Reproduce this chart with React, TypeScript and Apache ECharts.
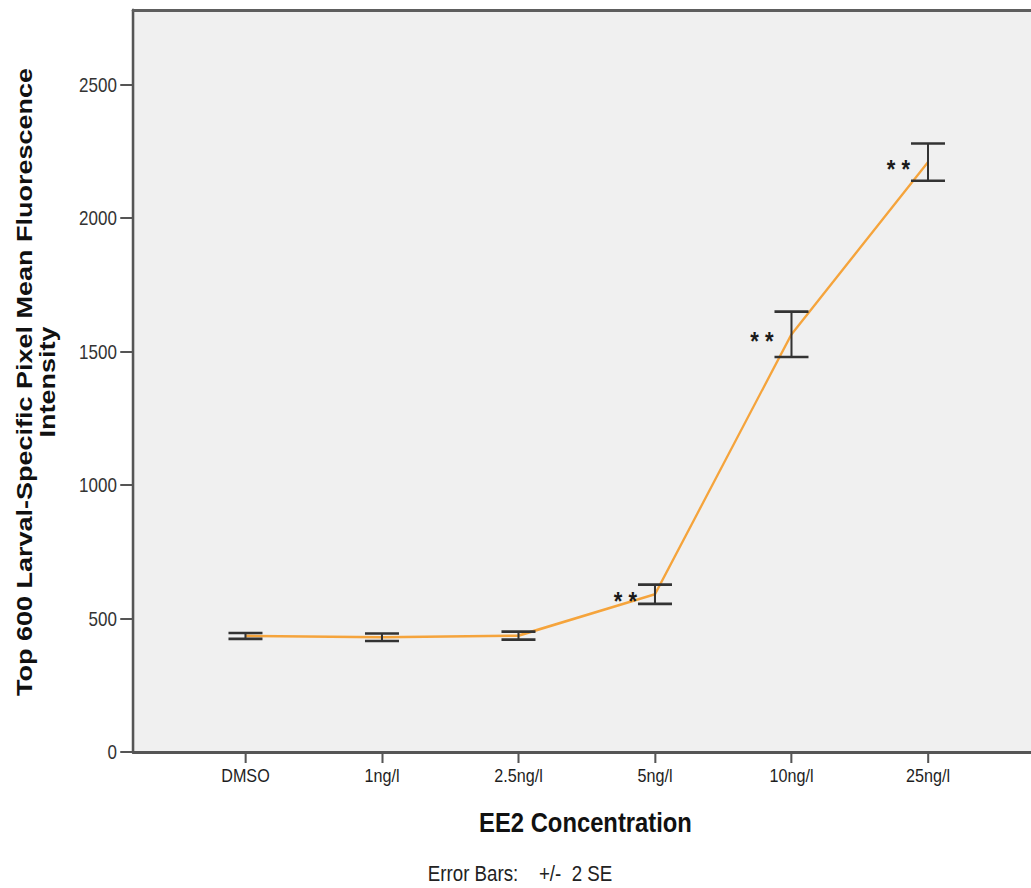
import React, { useEffect, useRef } from "react";
import * as echarts from "echarts";

// Treatment groups along the x axis
const categories = ["DMSO", "1ng/l", "2.5ng/l", "5ng/l", "10ng/l", "25ng/l"];
// Mean fluorescence intensity per group
const meanIntensity = [435, 430, 436, 591, 1565, 2210];
// Error bar half-length (2 standard errors)
const twoSE = [11, 14, 15, 36, 85, 70];
// Significance markers shown next to each group
const significance = ["", "", "", "**", "**", "**"];
// Y axis tick values and range
const yTicks = [0, 500, 1000, 1500, 2000, 2500];
const yMax = 2780;

// The figure is drawn on a wider canvas and squeezed horizontally
const SQUEEZE = 0.85;
const VIEW_W = 1031;
const VIEW_H = 888;
const CHART_W = VIEW_W / SQUEEZE;

const FONT = "'Liberation Sans', Arial, Helvetica, sans-serif";
const AXIS_COLOR = "#555555";
const BAR_COLOR = "#333333";
const LINE_COLOR = "#f5a43c";

export default function App() {
  const ref = useRef<HTMLDivElement>(null);

  useEffect(() => {
    if (!ref.current) return;
    const chart = echarts.init(ref.current, undefined, { renderer: "svg" });

    const positions = categories.map((_, i) => i);
    const lineData = positions.map((x, i) => [x, meanIntensity[i]]);
    const barData = positions.map((x, i) => [x, meanIntensity[i], twoSE[i]]);
    const starData = positions.map((x, i) => [x, meanIntensity[i], i]);

    const xMin = -0.824;
    const xMax = 5.755;

    const option: any = {
      animation: false,
      grid: {
        left: 133 / SQUEEZE,
        right: 0,
        top: 10,
        bottom: 136,
        show: true,
        backgroundColor: "#f0f0f0",
        borderWidth: 0,
      },
      xAxis: [
        {
          type: "value",
          min: xMin,
          max: xMax,
          position: "bottom",
          axisLine: { show: true, onZero: false, lineStyle: { color: AXIS_COLOR, width: 3 } },
          axisTick: {
            show: true,
            customValues: positions,
            length: 11,
            lineStyle: { color: AXIS_COLOR, width: 2.4 },
          },
          axisLabel: {
            customValues: positions,
            formatter: (v: number) => categories[Math.round(v)] ?? "",
            margin: 14,
            color: "#1e1e1e",
            fontSize: 19,
            fontFamily: FONT,
          },
          splitLine: { show: false },
        },
        {
          type: "value",
          min: xMin,
          max: xMax,
          position: "top",
          axisLine: { show: true, onZero: false, lineStyle: { color: "#5e5e5e", width: 3 } },
          axisTick: { show: false },
          axisLabel: { show: false },
          splitLine: { show: false },
        },
      ],
      yAxis: {
        type: "value",
        min: 0,
        max: yMax,
        axisLine: { show: true, onZero: false, lineStyle: { color: AXIS_COLOR, width: 3 } },
        axisTick: {
          show: true,
          customValues: yTicks,
          length: 15,
          lineStyle: { color: AXIS_COLOR, width: 2 },
        },
        axisLabel: {
          customValues: yTicks,
          formatter: (v: number) => String(v),
          margin: 19,
          fontSize: 20,
          color: "#333333",
          fontFamily: FONT,
        },
        splitLine: { show: false },
      },
      series: [
        {
          type: "line",
          data: lineData,
          symbol: "none",
          lineStyle: { color: LINE_COLOR, width: 2.6 },
          z: 2,
        },
        {
          type: "custom",
          data: barData,
          z: 3,
          renderItem: (_params: any, api: any) => {
            const x = api.value(0);
            const m = api.value(1);
            const e = api.value(2);
            const c = api.coord([x, m]);
            const hi = api.coord([x, m + e]);
            const lo = api.coord([x, m - e]);
            const half = 20;
            return {
              type: "group",
              children: [
                {
                  type: "line",
                  shape: { x1: c[0], y1: hi[1], x2: c[0], y2: lo[1] },
                  style: { stroke: BAR_COLOR, lineWidth: 2.4 },
                },
                {
                  type: "line",
                  shape: { x1: c[0] - half, y1: hi[1], x2: c[0] + half, y2: hi[1] },
                  style: { stroke: BAR_COLOR, lineWidth: 2.6 },
                },
                {
                  type: "line",
                  shape: { x1: c[0] - half, y1: lo[1], x2: c[0] + half, y2: lo[1] },
                  style: { stroke: BAR_COLOR, lineWidth: 2.6 },
                },
              ],
            };
          },
        },
        {
          type: "custom",
          data: starData,
          z: 4,
          renderItem: (_params: any, api: any) => {
            const idx = api.value(2);
            const mark = significance[idx];
            if (!mark) return null;
            const c = api.coord([api.value(0), api.value(1)]);
            return {
              type: "text",
              x: c[0] - 21,
              y: c[1] + 7,
              style: {
                text: mark.split("").join(" "),
                font: `bold 26px ${FONT}`,
                fill: "#1a1a1a",
                align: "right",
                textAlign: "right",
                verticalAlign: "middle",
                textVerticalAlign: "middle",
              },
            };
          },
        },
      ],
      graphic: [
        {
          type: "text",
          x: 42,
          y: 382,
          rotation: Math.PI / 2,
          style: {
            text: "Top 600 Larval-Specific Pixel Mean Fluorescence\nIntensity",
            font: `bold 27px ${FONT}`,
            lineHeight: 27,
            fill: "#111111",
            align: "center",
            textAlign: "center",
            verticalAlign: "middle",
            textVerticalAlign: "middle",
          },
        },
        {
          type: "text",
          x: 585.5 / SQUEEZE,
          y: 822,
          style: {
            text: "EE2 Concentration",
            font: `bold 28px ${FONT}`,
            fill: "#111111",
            align: "center",
            textAlign: "center",
            verticalAlign: "middle",
            textVerticalAlign: "middle",
          },
        },
        {
          type: "text",
          x: 520 / SQUEEZE,
          y: 873,
          style: {
            text: "Error Bars:    +/-  2 SE",
            font: `22px ${FONT}`,
            fill: "#222222",
            align: "center",
            textAlign: "center",
            verticalAlign: "middle",
            textVerticalAlign: "middle",
          },
        },
      ],
    };

    chart.setOption(option);
    return () => chart.dispose();
  }, []);

  return (
    <div
      style={{
        position: "fixed",
        left: 0,
        top: 0,
        width: VIEW_W,
        height: VIEW_H,
        overflow: "hidden",
        background: "#ffffff",
      }}
    >
      <div
        ref={ref}
        style={{
          width: CHART_W,
          height: VIEW_H,
          transform: `scaleX(${SQUEEZE})`,
          transformOrigin: "0 0",
        }}
      />
    </div>
  );
}
